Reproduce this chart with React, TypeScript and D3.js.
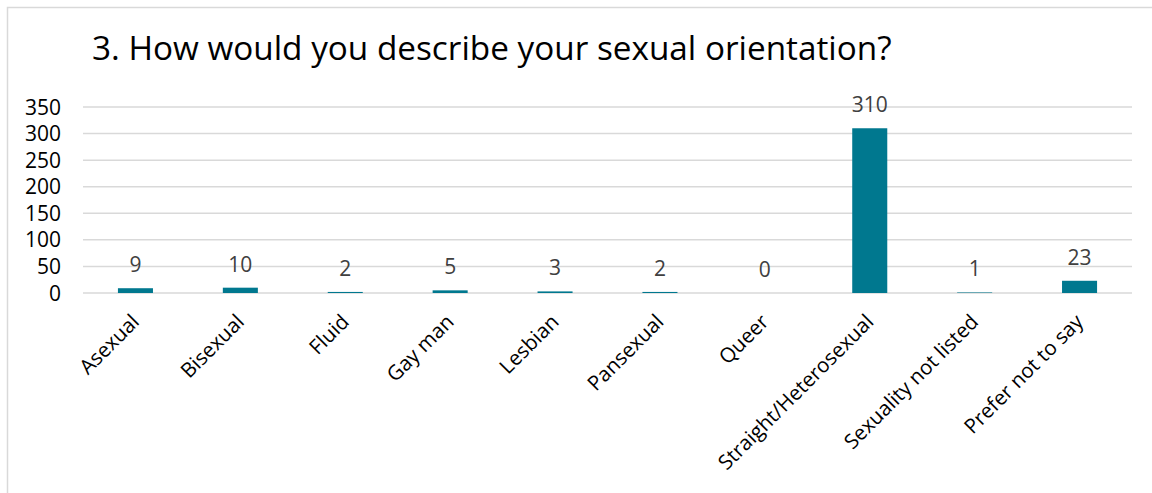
import React from "react";
import * as d3 from "d3";

const categories = [
  "Asexual",
  "Bisexual",
  "Fluid",
  "Gay man",
  "Lesbian",
  "Pansexual",
  "Queer",
  "Straight/Heterosexual",
  "Sexuality not listed",
  "Prefer not to say",
];
const values = [9, 10, 2, 5, 3, 2, 0, 310, 1, 23];
const yTicks = [0, 50, 100, 150, 200, 250, 300, 350];
const title = "3. How would you describe your sexual orientation?";

const W = 1152;
const H = 493;
const FONT = "'Open Sans', 'Noto Sans', sans-serif";

export default function App() {
  const x = d3
    .scaleBand<string>()
    .domain(categories)
    .range([83, 1132])
    .paddingInner(0.666)
    .paddingOuter(0.333);
  const y = d3.scaleLinear().domain([0, 350]).range([293, 107]);

  return (
    <svg
      width={W}
      height={H}
      style={{ position: "fixed", left: 0, top: 0, background: "#fff" }}
      fontFamily={FONT}
    >
      <rect x={0} y={0} width={W} height={H} fill="#fff" />
      <rect
        x={7.5}
        y={7.5}
        width={1300}
        height={700}
        fill="#fff"
        stroke="#d9d9d9"
        strokeWidth={1.5}
      />
      <text x={92} y={60} fontSize={33.3} fill="#000">
        {title}
      </text>
      {yTicks.map((t) => (
        <g key={t}>
          <line
            x1={83}
            x2={1132}
            y1={y(t)}
            y2={y(t)}
            stroke="#d9d9d9"
            strokeWidth={1.5}
          />
          <text
            x={61}
            y={y(t)}
            dy="0.36em"
            textAnchor="end"
            fontSize={21}
            fill="#000"
          >
            {t}
          </text>
        </g>
      ))}
      {categories.map((c, i) => {
        const v = values[i];
        const bx = x(c) as number;
        const bw = x.bandwidth();
        const cx = bx + bw / 2;
        return (
          <g key={c}>
            {v > 0 && (
              <rect
                x={bx}
                y={y(v)}
                width={bw}
                height={y(0) - y(v)}
                fill="#00788f"
              />
            )}
            <text
              x={cx}
              y={y(v) - 16}
              textAnchor="middle"
              fontSize={21}
              fill="#404040"
            >
              {v}
            </text>
            <text
              transform={`translate(${cx},${318}) rotate(-45)`}
              textAnchor="end"
              dy="0.35em"
              fontSize={20.5}
              fill="#000"
            >
              {c}
            </text>
          </g>
        );
      })}
    </svg>
  );
}
